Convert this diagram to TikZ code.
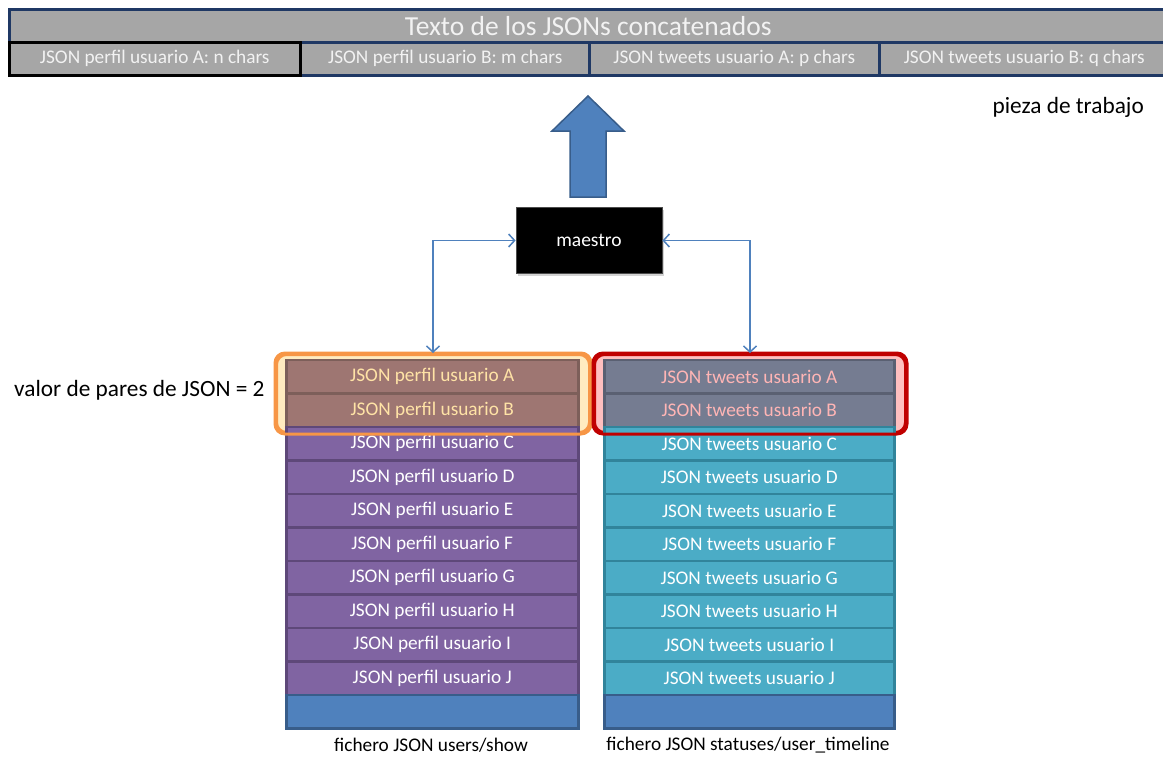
\documentclass[tikz,border=0pt]{standalone}
\usepackage{fontspec}
\setmainfont{Carlito}
\usetikzlibrary{arrows.meta,shadows}

\definecolor{bargray}{HTML}{A6A6A6}
\definecolor{navy}{HTML}{1F3864}
\definecolor{barText}{HTML}{F2F2F2}
\definecolor{purp}{HTML}{8064A2}
\definecolor{purpDark}{HTML}{5E4879}
\definecolor{teal}{HTML}{4BACC6}
\definecolor{tealDark}{HTML}{31849B}
\definecolor{blueFill}{HTML}{4F81BD}
\definecolor{blueDark}{HTML}{385D8A}
\definecolor{brownSel}{HTML}{9E7672}
\definecolor{brownDark}{HTML}{7D5F5A}
\definecolor{brownText}{HTML}{FFE3A6}
\definecolor{slateSel}{HTML}{757C91}
\definecolor{slateDark}{HTML}{5A6072}
\definecolor{slateText}{HTML}{FFB5B5}
\definecolor{orangeLine}{HTML}{F79646}
\definecolor{orangeFill}{HTML}{FFEBC0}
\definecolor{redLine}{HTML}{C00000}
\definecolor{redFill}{HTML}{FFBFBF}

\tikzset{
  cellfont/.style={font=\fontsize{19.3}{22}\selectfont},
  barcell/.style={draw=navy, line width=2.5pt, fill=bargray, text=barText,
    inner sep=0pt, anchor=north west, minimum height=33pt, cellfont},
  rowcell/.style={inner sep=0pt, line width=2.5pt, minimum height=33.5pt,
    anchor=north west, cellfont},
  profrow/.style={rowcell, draw=purpDark, fill=purp, text=white, minimum width=292pt},
  tweetrow/.style={rowcell, draw=tealDark, fill=teal, text=white, minimum width=290pt},
  profsel/.style={rowcell, draw=brownDark, fill=brownSel, text=brownText, minimum width=292pt},
  tweetsel/.style={rowcell, draw=slateDark, fill=slateSel, text=slateText, minimum width=290pt},
  emptyrow/.style={rowcell, draw=blueDark, fill=blueFill},
  groupbox/.style={rounded corners=10pt, line width=3pt, inner sep=0pt, anchor=north west},
  conn/.style={draw=blueFill, line width=1.5pt, {Straight Barb[length=6pt,width=13pt]}-{Straight Barb[length=6pt,width=13pt]}},
  plainlabel/.style={inner sep=0pt, text=black},
}

\begin{document}
\begin{tikzpicture}[x=1pt,y=-1pt]
\useasboundingbox (0,0) rectangle (1163,758);

% concatenated text bar
\node[barcell, minimum width=1158pt, font=\fontsize{27.5}{30}\selectfont] (title) at (8,8) {Texto de los JSONs concatenados};
\node[barcell, minimum width=290pt] (cB) at (299,41) {JSON perfil usuario B: m chars};
\node[barcell, minimum width=290pt] (cC) at (588,41) {JSON tweets usuario A: p chars};
\node[barcell, minimum width=290pt] (cD) at (878,41) {JSON tweets usuario B: q chars};
\node[barcell, draw=black, minimum width=291pt] (cA) at (8,41) {JSON perfil usuario A: n chars};

\node[plainlabel, font=\fontsize{23.3}{26}\selectfont, anchor=east] (pieza) at (1144,107) {pieza de trabajo};

% upward block arrow
\draw[fill=blueFill, draw=blueDark, line width=1.5pt, line join=miter]
  (570,197) -- (570,131) -- (552,131) -- (588,96) -- (624,131) -- (606,131) -- (606,197) -- cycle;

% master node
\node[fill=black, draw=gray!60!black, line width=0.8pt, minimum width=146pt, minimum height=66pt,
  inner sep=0pt, text=white, font=\fontsize{19.5}{22}\selectfont,
  drop shadow={shadow xshift=1.5pt, shadow yshift=-2pt, opacity=0.35}] (m) at (589,240.5) {maestro};

% selection groups
\node[groupbox, draw=orangeLine, fill=orangeFill, minimum width=313pt, minimum height=78pt] (ob) at (275,353) {};
\node[groupbox, draw=redLine, fill=redFill, minimum width=311pt, minimum height=78pt] (rb) at (593,353) {};

% profile column
\node[profsel] (lA) at (285,358.5) {JSON perfil usuario A};
\node[profsel] (lB) at (285,392) {JSON perfil usuario B};
\foreach \l [count=\i from 2] in {C,D,E,F,G,H,I,J} {
  \node[profrow] (l\l) at (285,358.5+33.5*\i) {JSON perfil usuario \l};
}
\node[emptyrow, minimum width=292pt] (lK) at (285,693.5) {};

% tweets column
\node[tweetsel] (rA) at (603,358.5) {JSON tweets usuario A};
\node[tweetsel] (rB) at (603,392) {JSON tweets usuario B};
\foreach \l [count=\i from 2] in {C,D,E,F,G,H,I,J} {
  \node[tweetrow] (r\l) at (603,358.5+33.5*\i) {JSON tweets usuario \l};
}
\node[emptyrow, minimum width=290pt] (rK) at (603,693.5) {};

% redraw group outlines on top of the rows
\draw[orangeLine, line width=3pt, rounded corners=10pt] (ob.north west) rectangle (ob.south east);
\draw[redLine, line width=3pt, rounded corners=10pt] (rb.north west) rectangle (rb.south east);

% connectors between master and the two files
\draw[conn] (ob.north) |- (m.west);
\draw[conn] (rb.north) |- (m.east);

% captions
\node[plainlabel, font=\fontsize{23.3}{26}\selectfont, anchor=west] (pares) at (14,390) {valor de pares de JSON = 2};
\node[plainlabel, cellfont] (capL) at (431,745) {fichero JSON users/show};
\node[plainlabel, cellfont] (capR) at (748,745) {fichero JSON statuses/user\_timeline};
\end{tikzpicture}
\end{document}
